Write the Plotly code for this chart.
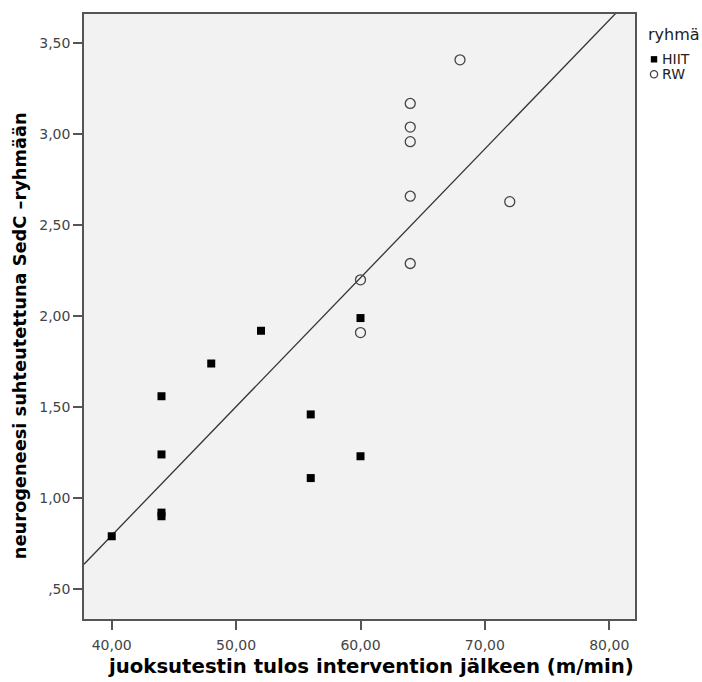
import numpy as np
import plotly.graph_objects as go

# Data
hiit_x = [40, 44, 44, 44, 44, 48, 52, 56, 56, 60, 60]
hiit_y = [0.79, 1.56, 1.24, 0.92, 0.90, 1.74, 1.92, 1.46, 1.11, 1.99, 1.23]
rw_x = [60, 60, 64, 64, 64, 64, 64, 68, 72]
rw_y = [2.20, 1.91, 3.17, 3.04, 2.96, 2.66, 2.29, 3.41, 2.63]

x_ticks = [40, 50, 60, 70, 80]
x_ticktext = ["40,00", "50,00", "60,00", "70,00", "80,00"]
y_ticks = [0.5, 1.0, 1.5, 2.0, 2.5, 3.0, 3.5]
y_ticktext = [",50", "1,00", "1,50", "2,00", "2,50", "3,00", "3,50"]

x_title = "juoksutestin tulos intervention jälkeen (m/min)"
y_title = "neurogeneesi suhteutettuna SedC \u2013ryhmään"
group_title = "ryhmä"
group_names = ["HIIT", "RW"]

x_range = [37.77, 82.07]
y_range = [0.335, 3.662]

# total-sample linear fit line
all_x = np.array(hiit_x + rw_x, dtype=float)
all_y = np.array(hiit_y + rw_y, dtype=float)
slope, intercept = np.polyfit(all_x, all_y, 1)
fit_x = np.array(x_range)
fit_y = intercept + slope * fit_x

fig = go.Figure()
fig.add_trace(go.Scatter(
    x=fit_x, y=fit_y, mode="lines",
    line=dict(color="#333333", width=1.3),
    showlegend=False, hoverinfo="skip",
))
fig.add_trace(go.Scatter(
    x=hiit_x, y=hiit_y, mode="markers", name=group_names[0], showlegend=False,
    marker=dict(symbol="square", size=8, color="black"),
))
fig.add_trace(go.Scatter(
    x=rw_x, y=rw_y, mode="markers", name=group_names[1], showlegend=False,
    marker=dict(symbol="circle-open", size=10, color="#444444",
                line=dict(width=1.3, color="#444444")),
))

tick_font = dict(family="DejaVu Sans", size=14, color="#444444")

# Legend drawn at the right of the plot (compact, SPSS style)
leg_x_sym = 1.0345
leg_x_txt = 1.046
leg_rows_y = [0.9251, 0.9003]
shapes = [
    dict(type="rect", xref="paper", yref="paper",
         xsizemode="pixel", ysizemode="pixel",
         xanchor=leg_x_sym, yanchor=leg_rows_y[0],
         x0=-3.2, x1=3.2, y0=-3.2, y1=3.2,
         fillcolor="black", line=dict(width=0)),
    dict(type="circle", xref="paper", yref="paper",
         xsizemode="pixel", ysizemode="pixel",
         xanchor=leg_x_sym, yanchor=leg_rows_y[1],
         x0=-3.6, x1=3.6, y0=-3.6, y1=3.6,
         fillcolor="rgba(0,0,0,0)", line=dict(width=1.3, color="#444444")),
]
annotations = [
    dict(text=group_title, xref="paper", yref="paper", x=1.0195, y=0.9653,
         xanchor="left", yanchor="middle", showarrow=False,
         font=dict(family="DejaVu Sans", size=16, color="#222222")),
    # axis titles
    dict(text="<b>" + x_title + "</b>", xref="paper", yref="paper",
         x=0.521, y=-0.0793, xanchor="center", yanchor="middle", showarrow=False,
         font=dict(family="DejaVu Sans", size=19.7, color="black")),
    dict(text="<b>" + y_title + "</b>", xref="paper", yref="paper", textangle=-90,
         x=-0.118, y=0.469, xanchor="center", yanchor="middle", showarrow=False,
         font=dict(family="DejaVu Sans", size=17.8, color="black")),
]
for name, yy in zip(group_names, leg_rows_y):
    annotations.append(dict(text=name, xref="paper", yref="paper", x=leg_x_txt, y=yy,
                            xanchor="left", yanchor="middle", showarrow=False,
                            font=dict(family="DejaVu Sans", size=14, color="#222222")))

fig.update_layout(
    width=702, height=682,
    margin=dict(l=84, r=67, t=14, b=63),
    paper_bgcolor="white",
    plot_bgcolor="#F2F2F2",
    font=dict(family="DejaVu Sans"),
    showlegend=False,
    shapes=shapes,
    annotations=annotations,
    xaxis=dict(
        range=x_range, tickvals=x_ticks, ticktext=x_ticktext,
        showgrid=False, zeroline=False,
        showline=True, mirror=True, linecolor="#555555", linewidth=1.5,
        ticks="outside", ticklen=9, tickwidth=1.5, tickcolor="#555555",
        tickfont=tick_font, ticklabelstandoff=3,
    ),
    yaxis=dict(
        range=y_range, tickvals=y_ticks, ticktext=y_ticktext,
        showgrid=False, zeroline=False,
        showline=True, mirror=True, linecolor="#555555", linewidth=1.5,
        ticks="outside", ticklen=9, tickwidth=1.5, tickcolor="#555555",
        tickfont=tick_font,
    ),
)

fig.write_html("out.html")
